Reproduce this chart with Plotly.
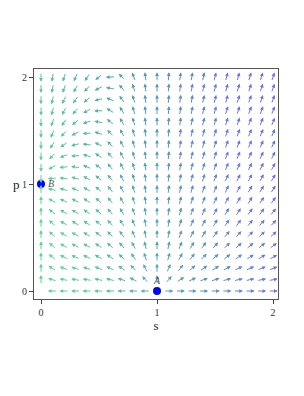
import numpy as np
import plotly.graph_objects as go

# ---- data -------------------------------------------------------------
# direction field of the system  s' = K_S * s * (s - 1),
#                                p' = p * (1 - p + C_P * s**2)
K_S = 3.0
C_P = 2.7
s_grid = list(np.linspace(0.0, 2.0, 21))   # 21 arrow columns
p_grid = list(np.linspace(0.0, 2.0, 20))   # 20 arrow rows
eq_names = ["A", "B"]
eq_s = [1.0, 0.0]
eq_p = [0.0, 1.0]
x_ticks = [0, 1, 2]
y_ticks = [0, 1, 2]

# ---- layout constants (page body has an 8px margin) ---------------------
W, H = 296, 388
ML, MR, MT, MB = 26, 26, 61, 97
XR = [-0.0603, 2.043]
YR = [-0.0748, 2.0748]
PX_X = (W - ML - MR) / (XR[1] - XR[0])
PX_Y = (H - MT - MB) / (YR[1] - YR[0])
L = 9.5  # arrow length in px

stops = [(0.0, (88, 214, 146)), (0.5, (82, 158, 190)), (1.0, (108, 108, 246))]


def colour(t):
    t = min(max(t, 0.0), 1.0)
    for (t0, c0), (t1, c1) in zip(stops[:-1], stops[1:]):
        if t <= t1:
            f = (t - t0) / (t1 - t0)
            c = [round(a + (b - a) * f) for a, b in zip(c0, c1)]
            return "rgb(%d,%d,%d)" % tuple(c)
    return "rgb(%d,%d,%d)" % stops[-1][1]


anns = []
for s in s_grid:
    for p in p_grid:
        u = K_S * s * (s - 1)
        v = p * (1 - p + C_P * s ** 2)
        dx, dy = u * PX_X, v * PX_Y
        m = (dx * dx + dy * dy) ** 0.5
        if m < 1e-9:
            continue
        dx, dy = dx / m * L, dy / m * L
        hx = s + dx / 2 / PX_X
        hy = p + dy / 2 / PX_Y
        col = colour((s + 0.25 * (p - 1)) / 2)
        anns.append(dict(x=hx, y=hy, xref="x", yref="y", ax=-dx, ay=dy,
                         axref="pixel", ayref="pixel", text="", showarrow=True,
                         arrowhead=2, arrowsize=0.75, arrowwidth=1,
                         arrowcolor=col))

fig = go.Figure()
fig.add_trace(go.Scatter(x=eq_s, y=eq_p, mode="markers",
                         marker=dict(color="#0000ff", size=8),
                         hoverinfo="skip", showlegend=False))

anns.append(dict(x=eq_s[0], y=eq_p[0], xref="x", yref="y", text="<i>A</i>",
                 showarrow=False, yshift=11, xshift=0,
                 font=dict(family="Liberation Serif", size=10, color="#555")))
anns.append(dict(x=eq_s[1], y=eq_p[1], xref="x", yref="y", text="<i>B</i>",
                 showarrow=False, xshift=10, yshift=1,
                 font=dict(family="Liberation Serif", size=10, color="#555")))
anns.append(dict(x=XR[0], y=1.0, xref="x", yref="y", text="p",
                 showarrow=False, xanchor="right", xshift=-12,
                 font=dict(family="Liberation Serif", size=13, color="#222")))

fig.update_layout(
    width=W, height=H,
    margin=dict(l=ML, r=MR, t=MT, b=MB),
    plot_bgcolor="white", paper_bgcolor="white",
    annotations=anns,
    font=dict(family="Liberation Serif", size=10, color="#333"),
    xaxis=dict(range=XR, tickvals=x_ticks, ticks="outside", ticklen=4,
               showgrid=False, zeroline=False, showline=True, mirror=True,
               linecolor="#555", linewidth=1,
               title=dict(text="s", font=dict(size=13, color="#222"),
                          standoff=0)),
    yaxis=dict(range=YR, tickvals=y_ticks, ticks="outside", ticklen=4,
               showgrid=False, zeroline=False, showline=True, mirror=True,
               linecolor="#555", linewidth=1),
)
fig.write_html("out.html")
